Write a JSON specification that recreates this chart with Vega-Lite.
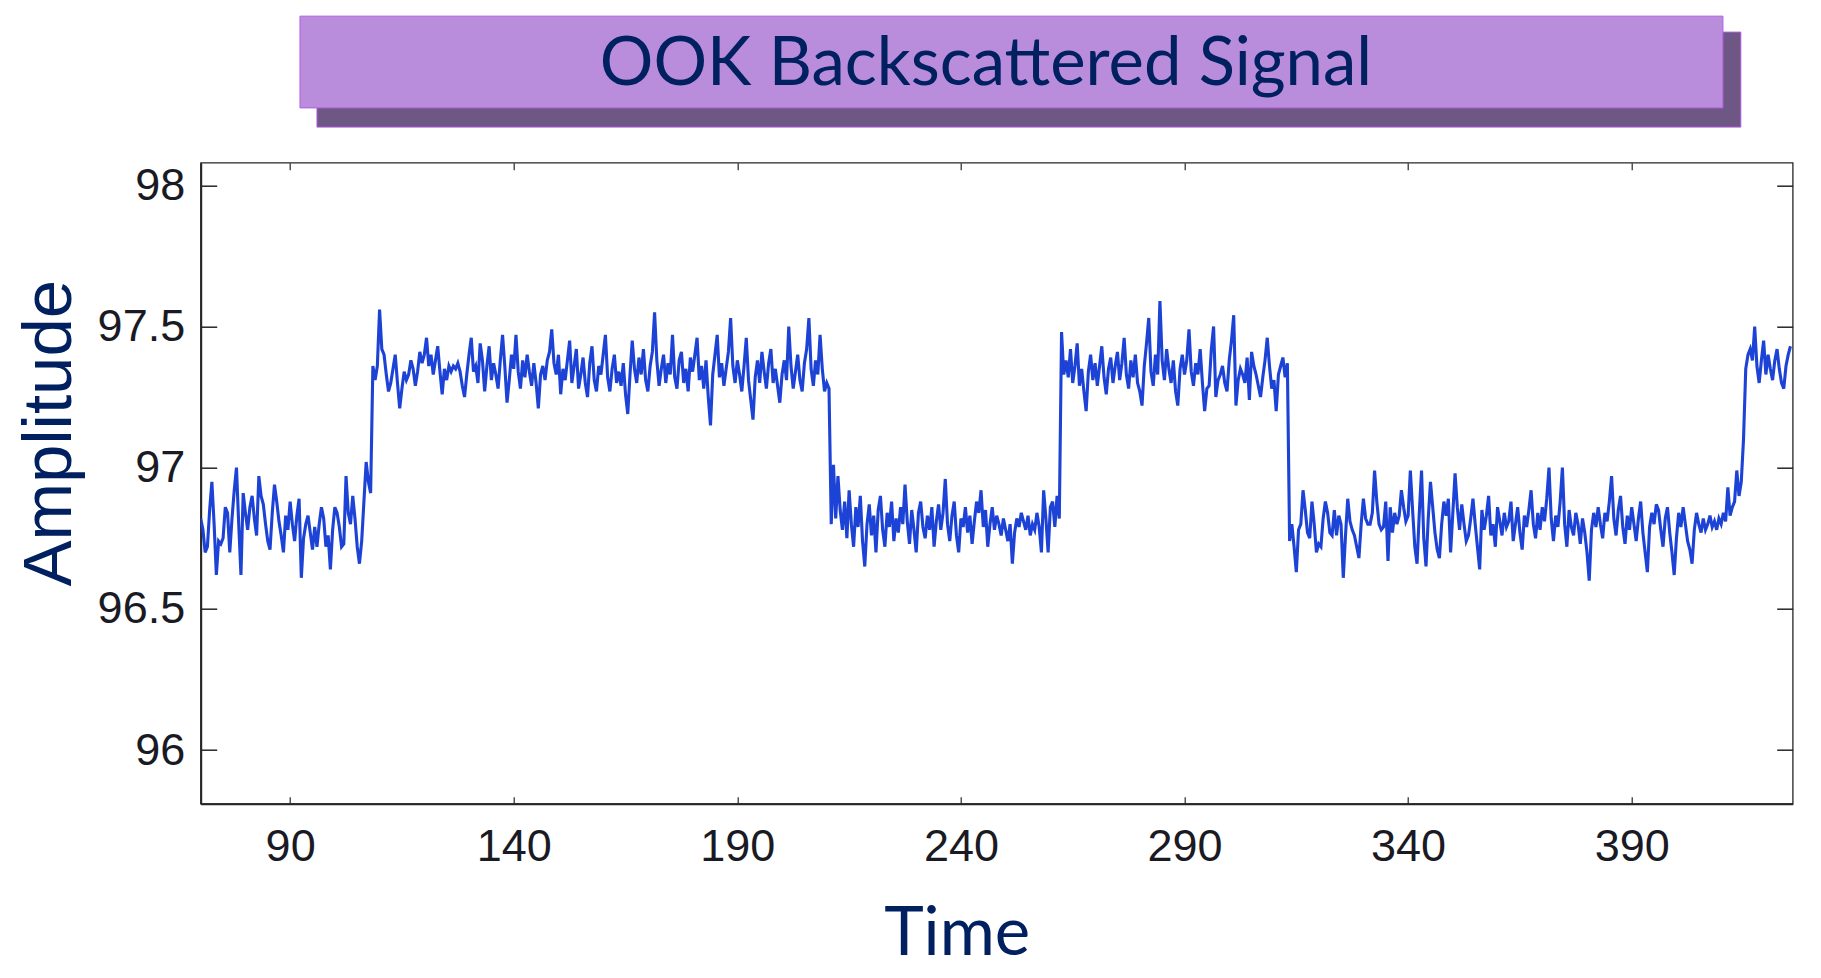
{
"$schema": "https://vega.github.io/schema/vega-lite/v6.json",
"width": 1592, "height": 641,
"autosize": {"type": "none"},
"padding": {"left": 200.7, "top": 162.7, "right": 28.3, "bottom": 174.3},
"background": "white",
"config": {"view": {"stroke": "#2a2525", "strokeWidth": 1.3}},
"datasets": {"signal": [
{"time":70.0,"amp":96.82},{"time":70.5,"amp":96.78},{"time":71.0,"amp":96.70},{"time":71.5,"amp":96.72},{"time":72.0,"amp":96.85},{"time":72.5,"amp":96.95},{"time":73.0,"amp":96.80},{"time":73.5,"amp":96.62},{"time":74.0,"amp":96.74},{"time":74.5,"amp":96.73},
{"time":75.0,"amp":96.75},{"time":75.5,"amp":96.86},{"time":76.0,"amp":96.84},{"time":76.5,"amp":96.70},{"time":77.0,"amp":96.82},{"time":77.5,"amp":96.92},{"time":78.0,"amp":97.00},{"time":78.5,"amp":96.80},{"time":79.0,"amp":96.62},{"time":79.5,"amp":96.91},
{"time":80.0,"amp":96.84},{"time":80.5,"amp":96.78},{"time":81.0,"amp":96.86},{"time":81.5,"amp":96.90},{"time":82.0,"amp":96.82},{"time":82.5,"amp":96.76},{"time":83.0,"amp":96.97},{"time":83.5,"amp":96.90},{"time":84.0,"amp":96.87},{"time":84.5,"amp":96.80},
{"time":85.0,"amp":96.74},{"time":85.5,"amp":96.71},{"time":86.0,"amp":96.84},{"time":86.5,"amp":96.94},{"time":87.0,"amp":96.88},{"time":87.5,"amp":96.81},{"time":88.0,"amp":96.76},{"time":88.5,"amp":96.70},{"time":89.0,"amp":96.83},{"time":89.5,"amp":96.78},
{"time":90.0,"amp":96.88},{"time":90.5,"amp":96.80},{"time":91.0,"amp":96.74},{"time":91.5,"amp":96.83},{"time":92.0,"amp":96.89},{"time":92.5,"amp":96.61},{"time":93.0,"amp":96.75},{"time":93.5,"amp":96.80},{"time":94.0,"amp":96.83},{"time":94.5,"amp":96.77},
{"time":95.0,"amp":96.71},{"time":95.5,"amp":96.79},{"time":96.0,"amp":96.72},{"time":96.5,"amp":96.80},{"time":97.0,"amp":96.86},{"time":97.5,"amp":96.82},{"time":98.0,"amp":96.72},{"time":98.5,"amp":96.76},{"time":99.0,"amp":96.64},{"time":99.5,"amp":96.78},
{"time":100.0,"amp":96.86},{"time":100.5,"amp":96.84},{"time":101.0,"amp":96.79},{"time":101.5,"amp":96.72},{"time":102.0,"amp":96.73},{"time":102.5,"amp":96.97},{"time":103.0,"amp":96.84},{"time":103.5,"amp":96.80},{"time":104.0,"amp":96.90},{"time":104.5,"amp":96.82},
{"time":105.0,"amp":96.72},{"time":105.5,"amp":96.66},{"time":106.0,"amp":96.74},{"time":106.5,"amp":96.88},{"time":107.0,"amp":97.02},{"time":107.5,"amp":96.95},{"time":108.0,"amp":96.91},{"time":108.5,"amp":97.36},{"time":109.0,"amp":97.31},{"time":109.5,"amp":97.36},
{"time":110.0,"amp":97.56},{"time":110.5,"amp":97.42},{"time":111.0,"amp":97.40},{"time":111.5,"amp":97.33},{"time":112.0,"amp":97.27},{"time":112.5,"amp":97.30},{"time":113.0,"amp":97.35},{"time":113.5,"amp":97.40},{"time":114.0,"amp":97.30},{"time":114.5,"amp":97.21},
{"time":115.0,"amp":97.28},{"time":115.5,"amp":97.34},{"time":116.0,"amp":97.31},{"time":116.5,"amp":97.33},{"time":117.0,"amp":97.38},{"time":117.5,"amp":97.35},{"time":118.0,"amp":97.29},{"time":118.5,"amp":97.34},{"time":119.0,"amp":97.41},{"time":119.5,"amp":97.37},
{"time":120.0,"amp":97.40},{"time":120.5,"amp":97.46},{"time":121.0,"amp":97.36},{"time":121.5,"amp":97.40},{"time":122.0,"amp":97.33},{"time":122.5,"amp":97.38},{"time":123.0,"amp":97.43},{"time":123.5,"amp":97.34},{"time":124.0,"amp":97.26},{"time":124.5,"amp":97.35},
{"time":125.0,"amp":97.31},{"time":125.5,"amp":97.36},{"time":126.0,"amp":97.34},{"time":126.5,"amp":97.36},{"time":127.0,"amp":97.35},{"time":127.5,"amp":97.37},{"time":128.0,"amp":97.34},{"time":128.5,"amp":97.29},{"time":129.0,"amp":97.25},{"time":129.5,"amp":97.33},
{"time":130.0,"amp":97.40},{"time":130.5,"amp":97.46},{"time":131.0,"amp":97.34},{"time":131.5,"amp":97.36},{"time":132.0,"amp":97.30},{"time":132.5,"amp":97.44},{"time":133.0,"amp":97.38},{"time":133.5,"amp":97.27},{"time":134.0,"amp":97.36},{"time":134.5,"amp":97.43},
{"time":135.0,"amp":97.31},{"time":135.5,"amp":97.37},{"time":136.0,"amp":97.33},{"time":136.5,"amp":97.28},{"time":137.0,"amp":97.38},{"time":137.5,"amp":97.47},{"time":138.0,"amp":97.36},{"time":138.5,"amp":97.23},{"time":139.0,"amp":97.31},{"time":139.5,"amp":97.40},
{"time":140.0,"amp":97.35},{"time":140.5,"amp":97.47},{"time":141.0,"amp":97.34},{"time":141.5,"amp":97.28},{"time":142.0,"amp":97.38},{"time":142.5,"amp":97.32},{"time":143.0,"amp":97.40},{"time":143.5,"amp":97.34},{"time":144.0,"amp":97.29},{"time":144.5,"amp":97.37},
{"time":145.0,"amp":97.30},{"time":145.5,"amp":97.21},{"time":146.0,"amp":97.33},{"time":146.5,"amp":97.36},{"time":147.0,"amp":97.31},{"time":147.5,"amp":97.38},{"time":148.0,"amp":97.41},{"time":148.5,"amp":97.49},{"time":149.0,"amp":97.37},{"time":149.5,"amp":97.33},
{"time":150.0,"amp":97.40},{"time":150.5,"amp":97.26},{"time":151.0,"amp":97.35},{"time":151.5,"amp":97.31},{"time":152.0,"amp":97.38},{"time":152.5,"amp":97.45},{"time":153.0,"amp":97.30},{"time":153.5,"amp":97.36},{"time":154.0,"amp":97.42},{"time":154.5,"amp":97.28},
{"time":155.0,"amp":97.33},{"time":155.5,"amp":97.39},{"time":156.0,"amp":97.30},{"time":156.5,"amp":97.25},{"time":157.0,"amp":97.37},{"time":157.5,"amp":97.43},{"time":158.0,"amp":97.31},{"time":158.5,"amp":97.27},{"time":159.0,"amp":97.36},{"time":159.5,"amp":97.33},
{"time":160.0,"amp":97.40},{"time":160.5,"amp":97.47},{"time":161.0,"amp":97.32},{"time":161.5,"amp":97.27},{"time":162.0,"amp":97.35},{"time":162.5,"amp":97.40},{"time":163.0,"amp":97.30},{"time":163.5,"amp":97.34},{"time":164.0,"amp":97.29},{"time":164.5,"amp":97.37},
{"time":165.0,"amp":97.26},{"time":165.5,"amp":97.19},{"time":166.0,"amp":97.33},{"time":166.5,"amp":97.45},{"time":167.0,"amp":97.35},{"time":167.5,"amp":97.30},{"time":168.0,"amp":97.39},{"time":168.5,"amp":97.33},{"time":169.0,"amp":97.42},{"time":169.5,"amp":97.31},
{"time":170.0,"amp":97.27},{"time":170.5,"amp":97.36},{"time":171.0,"amp":97.41},{"time":171.5,"amp":97.55},{"time":172.0,"amp":97.38},{"time":172.5,"amp":97.29},{"time":173.0,"amp":97.35},{"time":173.5,"amp":97.40},{"time":174.0,"amp":97.30},{"time":174.5,"amp":97.37},
{"time":175.0,"amp":97.33},{"time":175.5,"amp":97.47},{"time":176.0,"amp":97.32},{"time":176.5,"amp":97.28},{"time":177.0,"amp":97.38},{"time":177.5,"amp":97.41},{"time":178.0,"amp":97.30},{"time":178.5,"amp":97.35},{"time":179.0,"amp":97.27},{"time":179.5,"amp":97.39},
{"time":180.0,"amp":97.34},{"time":180.5,"amp":97.40},{"time":181.0,"amp":97.46},{"time":181.5,"amp":97.31},{"time":182.0,"amp":97.36},{"time":182.5,"amp":97.28},{"time":183.0,"amp":97.38},{"time":183.5,"amp":97.25},{"time":184.0,"amp":97.15},{"time":184.5,"amp":97.33},
{"time":185.0,"amp":97.40},{"time":185.5,"amp":97.47},{"time":186.0,"amp":97.32},{"time":186.5,"amp":97.37},{"time":187.0,"amp":97.29},{"time":187.5,"amp":97.35},{"time":188.0,"amp":97.41},{"time":188.5,"amp":97.53},{"time":189.0,"amp":97.36},{"time":189.5,"amp":97.30},
{"time":190.0,"amp":97.38},{"time":190.5,"amp":97.33},{"time":191.0,"amp":97.27},{"time":191.5,"amp":97.36},{"time":192.0,"amp":97.46},{"time":192.5,"amp":97.31},{"time":193.0,"amp":97.24},{"time":193.5,"amp":97.17},{"time":194.0,"amp":97.32},{"time":194.5,"amp":97.38},
{"time":195.0,"amp":97.30},{"time":195.5,"amp":97.41},{"time":196.0,"amp":97.34},{"time":196.5,"amp":97.28},{"time":197.0,"amp":97.37},{"time":197.5,"amp":97.42},{"time":198.0,"amp":97.30},{"time":198.5,"amp":97.35},{"time":199.0,"amp":97.29},{"time":199.5,"amp":97.23},
{"time":200.0,"amp":97.33},{"time":200.5,"amp":97.38},{"time":201.0,"amp":97.31},{"time":201.5,"amp":97.50},{"time":202.0,"amp":97.36},{"time":202.5,"amp":97.28},{"time":203.0,"amp":97.34},{"time":203.5,"amp":97.40},{"time":204.0,"amp":97.31},{"time":204.5,"amp":97.27},
{"time":205.0,"amp":97.37},{"time":205.5,"amp":97.42},{"time":206.0,"amp":97.53},{"time":206.5,"amp":97.35},{"time":207.0,"amp":97.29},{"time":207.5,"amp":97.38},{"time":208.0,"amp":97.33},{"time":208.5,"amp":97.47},{"time":209.0,"amp":97.35},{"time":209.5,"amp":97.27},
{"time":210.0,"amp":97.30},{"time":210.5,"amp":97.28},{"time":211.0,"amp":96.80},{"time":211.5,"amp":97.01},{"time":212.0,"amp":96.82},{"time":212.5,"amp":96.97},{"time":213.0,"amp":96.85},{"time":213.5,"amp":96.78},{"time":214.0,"amp":96.88},{"time":214.5,"amp":96.75},
{"time":215.0,"amp":96.92},{"time":215.5,"amp":96.80},{"time":216.0,"amp":96.72},{"time":216.5,"amp":96.86},{"time":217.0,"amp":96.79},{"time":217.5,"amp":96.90},{"time":218.0,"amp":96.74},{"time":218.5,"amp":96.65},{"time":219.0,"amp":96.80},{"time":219.5,"amp":96.87},
{"time":220.0,"amp":96.76},{"time":220.5,"amp":96.83},{"time":221.0,"amp":96.70},{"time":221.5,"amp":96.85},{"time":222.0,"amp":96.90},{"time":222.5,"amp":96.78},{"time":223.0,"amp":96.72},{"time":223.5,"amp":96.84},{"time":224.0,"amp":96.79},{"time":224.5,"amp":96.88},
{"time":225.0,"amp":96.74},{"time":225.5,"amp":96.82},{"time":226.0,"amp":96.77},{"time":226.5,"amp":96.86},{"time":227.0,"amp":96.80},{"time":227.5,"amp":96.94},{"time":228.0,"amp":96.81},{"time":228.5,"amp":96.73},{"time":229.0,"amp":96.85},{"time":229.5,"amp":96.78},
{"time":230.0,"amp":96.70},{"time":230.5,"amp":96.84},{"time":231.0,"amp":96.88},{"time":231.5,"amp":96.79},{"time":232.0,"amp":96.75},{"time":232.5,"amp":96.83},{"time":233.0,"amp":96.78},{"time":233.5,"amp":96.86},{"time":234.0,"amp":96.72},{"time":234.5,"amp":96.81},
{"time":235.0,"amp":96.87},{"time":235.5,"amp":96.78},{"time":236.0,"amp":96.84},{"time":236.5,"amp":96.96},{"time":237.0,"amp":96.80},{"time":237.5,"amp":96.74},{"time":238.0,"amp":96.83},{"time":238.5,"amp":96.88},{"time":239.0,"amp":96.76},{"time":239.5,"amp":96.70},
{"time":240.0,"amp":96.82},{"time":240.5,"amp":96.79},{"time":241.0,"amp":96.86},{"time":241.5,"amp":96.77},{"time":242.0,"amp":96.83},{"time":242.5,"amp":96.73},{"time":243.0,"amp":96.81},{"time":243.5,"amp":96.88},{"time":244.0,"amp":96.84},{"time":244.5,"amp":96.92},
{"time":245.0,"amp":96.79},{"time":245.5,"amp":96.85},{"time":246.0,"amp":96.72},{"time":246.5,"amp":96.80},{"time":247.0,"amp":96.86},{"time":247.5,"amp":96.78},{"time":248.0,"amp":96.83},{"time":248.5,"amp":96.80},{"time":249.0,"amp":96.76},{"time":249.5,"amp":96.82},
{"time":250.0,"amp":96.78},{"time":250.5,"amp":96.74},{"time":251.0,"amp":96.80},{"time":251.5,"amp":96.66},{"time":252.0,"amp":96.77},{"time":252.5,"amp":96.82},{"time":253.0,"amp":96.79},{"time":253.5,"amp":96.84},{"time":254.0,"amp":96.81},{"time":254.5,"amp":96.78},
{"time":255.0,"amp":96.83},{"time":255.5,"amp":96.76},{"time":256.0,"amp":96.80},{"time":256.5,"amp":96.78},{"time":257.0,"amp":96.84},{"time":257.5,"amp":96.79},{"time":258.0,"amp":96.70},{"time":258.5,"amp":96.92},{"time":259.0,"amp":96.82},{"time":259.5,"amp":96.70},
{"time":260.0,"amp":96.86},{"time":260.5,"amp":96.88},{"time":261.0,"amp":96.79},{"time":261.5,"amp":96.90},{"time":262.0,"amp":96.82},{"time":262.5,"amp":97.48},{"time":263.0,"amp":97.33},{"time":263.5,"amp":97.38},{"time":264.0,"amp":97.32},{"time":264.5,"amp":97.42},
{"time":265.0,"amp":97.30},{"time":265.5,"amp":97.36},{"time":266.0,"amp":97.44},{"time":266.5,"amp":97.29},{"time":267.0,"amp":97.35},{"time":267.5,"amp":97.27},{"time":268.0,"amp":97.20},{"time":268.5,"amp":97.34},{"time":269.0,"amp":97.40},{"time":269.5,"amp":97.31},
{"time":270.0,"amp":97.37},{"time":270.5,"amp":97.29},{"time":271.0,"amp":97.36},{"time":271.5,"amp":97.43},{"time":272.0,"amp":97.32},{"time":272.5,"amp":97.26},{"time":273.0,"amp":97.35},{"time":273.5,"amp":97.39},{"time":274.0,"amp":97.30},{"time":274.5,"amp":97.36},
{"time":275.0,"amp":97.41},{"time":275.5,"amp":97.31},{"time":276.0,"amp":97.37},{"time":276.5,"amp":97.46},{"time":277.0,"amp":97.33},{"time":277.5,"amp":97.28},{"time":278.0,"amp":97.38},{"time":278.5,"amp":97.32},{"time":279.0,"amp":97.40},{"time":279.5,"amp":97.30},
{"time":280.0,"amp":97.27},{"time":280.5,"amp":97.22},{"time":281.0,"amp":97.36},{"time":281.5,"amp":97.44},{"time":282.0,"amp":97.53},{"time":282.5,"amp":97.34},{"time":283.0,"amp":97.29},{"time":283.5,"amp":97.40},{"time":284.0,"amp":97.33},{"time":284.5,"amp":97.59},
{"time":285.0,"amp":97.38},{"time":285.5,"amp":97.31},{"time":286.0,"amp":97.42},{"time":286.5,"amp":97.35},{"time":287.0,"amp":97.30},{"time":287.5,"amp":97.38},{"time":288.0,"amp":97.27},{"time":288.5,"amp":97.22},{"time":289.0,"amp":97.35},{"time":289.5,"amp":97.40},
{"time":290.0,"amp":97.33},{"time":290.5,"amp":97.38},{"time":291.0,"amp":97.49},{"time":291.5,"amp":97.34},{"time":292.0,"amp":97.29},{"time":292.5,"amp":97.37},{"time":293.0,"amp":97.33},{"time":293.5,"amp":97.42},{"time":294.0,"amp":97.30},{"time":294.5,"amp":97.20},
{"time":295.0,"amp":97.28},{"time":295.5,"amp":97.29},{"time":296.0,"amp":97.42},{"time":296.5,"amp":97.50},{"time":297.0,"amp":97.25},{"time":297.5,"amp":97.31},{"time":298.0,"amp":97.33},{"time":298.5,"amp":97.36},{"time":299.0,"amp":97.30},{"time":299.5,"amp":97.27},
{"time":300.0,"amp":97.38},{"time":300.5,"amp":97.45},{"time":301.0,"amp":97.54},{"time":301.5,"amp":97.22},{"time":302.0,"amp":97.31},{"time":302.5,"amp":97.35},{"time":303.0,"amp":97.33},{"time":303.5,"amp":97.30},{"time":304.0,"amp":97.39},{"time":304.5,"amp":97.24},
{"time":305.0,"amp":97.41},{"time":305.5,"amp":97.36},{"time":306.0,"amp":97.33},{"time":306.5,"amp":97.29},{"time":307.0,"amp":97.25},{"time":307.5,"amp":97.32},{"time":308.0,"amp":97.38},{"time":308.5,"amp":97.46},{"time":309.0,"amp":97.36},{"time":309.5,"amp":97.28},
{"time":310.0,"amp":97.31},{"time":310.5,"amp":97.20},{"time":311.0,"amp":97.33},{"time":311.5,"amp":97.36},{"time":312.0,"amp":97.39},{"time":312.5,"amp":97.32},{"time":313.0,"amp":97.37},{"time":313.5,"amp":96.74},{"time":314.0,"amp":96.80},{"time":314.5,"amp":96.72},
{"time":315.0,"amp":96.63},{"time":315.5,"amp":96.78},{"time":316.0,"amp":96.80},{"time":316.5,"amp":96.92},{"time":317.0,"amp":96.85},{"time":317.5,"amp":96.77},{"time":318.0,"amp":96.75},{"time":318.5,"amp":96.88},{"time":319.0,"amp":96.80},{"time":319.5,"amp":96.70},
{"time":320.0,"amp":96.73},{"time":320.5,"amp":96.72},{"time":321.0,"amp":96.82},{"time":321.5,"amp":96.88},{"time":322.0,"amp":96.84},{"time":322.5,"amp":96.77},{"time":323.0,"amp":96.76},{"time":323.5,"amp":96.85},{"time":324.0,"amp":96.76},{"time":324.5,"amp":96.83},
{"time":325.0,"amp":96.80},{"time":325.5,"amp":96.61},{"time":326.0,"amp":96.76},{"time":326.5,"amp":96.89},{"time":327.0,"amp":96.81},{"time":327.5,"amp":96.78},{"time":328.0,"amp":96.76},{"time":328.5,"amp":96.72},{"time":329.0,"amp":96.68},{"time":329.5,"amp":96.80},
{"time":330.0,"amp":96.89},{"time":330.5,"amp":96.82},{"time":331.0,"amp":96.80},{"time":331.5,"amp":96.80},{"time":332.0,"amp":96.84},{"time":332.5,"amp":96.99},{"time":333.0,"amp":96.88},{"time":333.5,"amp":96.80},{"time":334.0,"amp":96.78},{"time":334.5,"amp":96.79},
{"time":335.0,"amp":96.88},{"time":335.5,"amp":96.67},{"time":336.0,"amp":96.86},{"time":336.5,"amp":96.77},{"time":337.0,"amp":96.84},{"time":337.5,"amp":96.80},{"time":338.0,"amp":96.83},{"time":338.5,"amp":96.92},{"time":339.0,"amp":96.86},{"time":339.5,"amp":96.81},
{"time":340.0,"amp":96.83},{"time":340.5,"amp":96.99},{"time":341.0,"amp":96.85},{"time":341.5,"amp":96.72},{"time":342.0,"amp":96.66},{"time":342.5,"amp":96.84},{"time":343.0,"amp":96.99},{"time":343.5,"amp":96.75},{"time":344.0,"amp":96.65},{"time":344.5,"amp":96.82},
{"time":345.0,"amp":96.95},{"time":345.5,"amp":96.86},{"time":346.0,"amp":96.77},{"time":346.5,"amp":96.71},{"time":347.0,"amp":96.68},{"time":347.5,"amp":96.80},{"time":348.0,"amp":96.88},{"time":348.5,"amp":96.83},{"time":349.0,"amp":96.89},{"time":349.5,"amp":96.70},
{"time":350.0,"amp":96.84},{"time":350.5,"amp":96.98},{"time":351.0,"amp":96.86},{"time":351.5,"amp":96.78},{"time":352.0,"amp":96.87},{"time":352.5,"amp":96.80},{"time":353.0,"amp":96.74},{"time":353.5,"amp":96.76},{"time":354.0,"amp":96.82},{"time":354.5,"amp":96.89},
{"time":355.0,"amp":96.80},{"time":355.5,"amp":96.72},{"time":356.0,"amp":96.64},{"time":356.5,"amp":96.85},{"time":357.0,"amp":96.78},{"time":357.5,"amp":96.83},{"time":358.0,"amp":96.90},{"time":358.5,"amp":96.76},{"time":359.0,"amp":96.80},{"time":359.5,"amp":96.72},
{"time":360.0,"amp":96.86},{"time":360.5,"amp":96.81},{"time":361.0,"amp":96.76},{"time":361.5,"amp":96.84},{"time":362.0,"amp":96.79},{"time":362.5,"amp":96.81},{"time":363.0,"amp":96.88},{"time":363.5,"amp":96.74},{"time":364.0,"amp":96.80},{"time":364.5,"amp":96.86},
{"time":365.0,"amp":96.77},{"time":365.5,"amp":96.71},{"time":366.0,"amp":96.83},{"time":366.5,"amp":96.79},{"time":367.0,"amp":96.85},{"time":367.5,"amp":96.92},{"time":368.0,"amp":96.80},{"time":368.5,"amp":96.75},{"time":369.0,"amp":96.84},{"time":369.5,"amp":96.78},
{"time":370.0,"amp":96.86},{"time":370.5,"amp":96.81},{"time":371.0,"amp":96.89},{"time":371.5,"amp":97.00},{"time":372.0,"amp":96.82},{"time":372.5,"amp":96.74},{"time":373.0,"amp":96.83},{"time":373.5,"amp":96.79},{"time":374.0,"amp":96.88},{"time":374.5,"amp":97.00},
{"time":375.0,"amp":96.80},{"time":375.5,"amp":96.72},{"time":376.0,"amp":96.85},{"time":376.5,"amp":96.79},{"time":377.0,"amp":96.76},{"time":377.5,"amp":96.84},{"time":378.0,"amp":96.80},{"time":378.5,"amp":96.73},{"time":379.0,"amp":96.82},{"time":379.5,"amp":96.77},
{"time":380.0,"amp":96.70},{"time":380.5,"amp":96.60},{"time":381.0,"amp":96.78},{"time":381.5,"amp":96.84},{"time":382.0,"amp":96.79},{"time":382.5,"amp":96.86},{"time":383.0,"amp":96.80},{"time":383.5,"amp":96.75},{"time":384.0,"amp":96.84},{"time":384.5,"amp":96.81},
{"time":385.0,"amp":96.88},{"time":385.5,"amp":96.97},{"time":386.0,"amp":96.82},{"time":386.5,"amp":96.76},{"time":387.0,"amp":96.85},{"time":387.5,"amp":96.90},{"time":388.0,"amp":96.79},{"time":388.5,"amp":96.73},{"time":389.0,"amp":96.83},{"time":389.5,"amp":96.78},
{"time":390.0,"amp":96.86},{"time":390.5,"amp":96.80},{"time":391.0,"amp":96.74},{"time":391.5,"amp":96.82},{"time":392.0,"amp":96.88},{"time":392.5,"amp":96.77},{"time":393.0,"amp":96.70},{"time":393.5,"amp":96.63},{"time":394.0,"amp":96.79},{"time":394.5,"amp":96.84},
{"time":395.0,"amp":96.80},{"time":395.5,"amp":96.87},{"time":396.0,"amp":96.85},{"time":396.5,"amp":96.78},{"time":397.0,"amp":96.72},{"time":397.5,"amp":96.82},{"time":398.0,"amp":96.86},{"time":398.5,"amp":96.77},{"time":399.0,"amp":96.70},{"time":399.5,"amp":96.62},
{"time":400.0,"amp":96.75},{"time":400.5,"amp":96.84},{"time":401.0,"amp":96.79},{"time":401.5,"amp":96.86},{"time":402.0,"amp":96.80},{"time":402.5,"amp":96.74},{"time":403.0,"amp":96.71},{"time":403.5,"amp":96.66},{"time":404.0,"amp":96.78},{"time":404.5,"amp":96.84},
{"time":405.0,"amp":96.80},{"time":405.5,"amp":96.77},{"time":406.0,"amp":96.82},{"time":406.5,"amp":96.78},{"time":407.0,"amp":96.80},{"time":407.5,"amp":96.83},{"time":408.0,"amp":96.79},{"time":408.5,"amp":96.81},{"time":409.0,"amp":96.78},{"time":409.5,"amp":96.82},
{"time":410.0,"amp":96.80},{"time":410.5,"amp":96.84},{"time":411.0,"amp":96.81},{"time":411.5,"amp":96.93},{"time":412.0,"amp":96.83},{"time":412.5,"amp":96.86},{"time":413.0,"amp":96.88},{"time":413.5,"amp":96.99},{"time":414.0,"amp":96.90},{"time":414.5,"amp":96.95},
{"time":415.0,"amp":97.10},{"time":415.5,"amp":97.35},{"time":416.0,"amp":97.40},{"time":416.5,"amp":97.42},{"time":417.0,"amp":97.38},{"time":417.5,"amp":97.50},{"time":418.0,"amp":97.36},{"time":418.5,"amp":97.30},{"time":419.0,"amp":97.38},{"time":419.5,"amp":97.45},
{"time":420.0,"amp":97.33},{"time":420.5,"amp":97.40},{"time":421.0,"amp":97.35},{"time":421.5,"amp":97.31},{"time":422.0,"amp":97.38},{"time":422.5,"amp":97.42},{"time":423.0,"amp":97.35},{"time":423.5,"amp":97.30},{"time":424.0,"amp":97.28},{"time":424.5,"amp":97.36},
{"time":425.0,"amp":97.40},{"time":425.5,"amp":97.43}
],
"banner": [{"label": "OOK Backscattered Signal"}]},
"resolve": {"axis": {"x": "independent", "y": "independent"}},
"layer": [
{"data": {"name": "banner"},
 "mark": {"type": "rect", "fill": "#6f5785", "stroke": "#b25ee0", "strokeWidth": 1},
 "encoding": {
  "x": {"datum": 96.0, "type": "quantitative", "axis": null},
  "x2": {"datum": 414.4},
  "y": {"datum": 98.5425, "type": "quantitative", "axis": null},
  "y2": {"datum": 98.206}}},
{"data": {"name": "banner"},
 "mark": {"type": "rect", "fill": "#b98ddb", "stroke": "#b25ee0", "strokeWidth": 1},
 "encoding": {
  "x": {"datum": 92.2, "type": "quantitative", "axis": null},
  "x2": {"datum": 410.4},
  "y": {"datum": 98.599, "type": "quantitative", "axis": null},
  "y2": {"datum": 98.274}}},
{"data": {"name": "banner"},
 "mark": {"type": "text", "font": "Lato", "fontSize": 67, "color": "#002060", "align": "center", "baseline": "alphabetic"},
 "encoding": {
  "x": {"datum": 245.6, "type": "quantitative", "axis": null},
  "y": {"datum": 98.355, "type": "quantitative", "axis": null},
  "text": {"field": "label"}}},
{"data": {"name": "signal"},
 "mark": {"type": "line", "color": "#1d43d6", "strokeWidth": 3.1, "clip": true},
 "encoding": {
  "x": {"field": "time", "type": "quantitative",
   "scale": {"domain": [70, 426], "nice": false, "zero": false},
   "axis": {"orient": "bottom", "values": [90, 140, 190, 240, 290, 340, 390], "format": "d",
    "grid": false, "domain": true, "domainColor": "#2a2525", "domainWidth": 2,
    "ticks": true, "tickSize": -7, "tickColor": "#2a2525", "tickWidth": 1.2,
    "labelFont": "Liberation Sans", "labelFontSize": 45, "labelColor": "#1a1a24", "labelPadding": 28, "labelFlush": false,
    "title": "Time", "titleFont": "Lato", "titleFontSize": 67, "titleFontWeight": "normal", "titleColor": "#002060",
    "titleX": 756, "titleY": 151, "titleAlign": "center", "titleBaseline": "alphabetic"}},
  "y": {"field": "amp", "type": "quantitative",
   "scale": {"domain": [95.81, 98.08], "nice": false, "zero": false},
   "axis": {"orient": "left", "values": [96, 96.5, 97, 97.5, 98], "format": "~g",
    "grid": false, "domain": true, "domainColor": "#2a2525", "domainWidth": 2,
    "ticks": true, "tickSize": -16, "tickColor": "#2a2525", "tickWidth": 1.5,
    "labelFont": "Liberation Sans", "labelFontSize": 45, "labelColor": "#1a1a24", "labelPadding": 32, "labelFlush": false,
    "title": "Amplitude", "titleFont": "Liberation Sans", "titleFontSize": 69, "titleFontWeight": "normal", "titleColor": "#002060",
    "titleAngle": -90, "titleX": -130.7, "titleY": 270, "titleAlign": "center", "titleBaseline": "alphabetic"}}}},
{"data": {"name": "signal"},
 "mark": {"type": "line", "strokeOpacity": 0, "clip": true},
 "encoding": {
  "x": {"field": "time", "type": "quantitative",
   "axis": {"orient": "top", "values": [90, 140, 190, 240, 290, 340, 390], "grid": false, "domain": false,
    "labels": false, "ticks": true, "tickSize": -7, "tickColor": "#2a2525", "tickWidth": 1.2, "title": null}},
  "y": {"field": "amp", "type": "quantitative",
   "axis": {"orient": "right", "values": [96, 96.5, 97, 97.5, 98], "grid": false, "domain": false,
    "labels": false, "ticks": true, "tickSize": -16, "tickColor": "#2a2525", "tickWidth": 1.5, "title": null}}}}
]
}
